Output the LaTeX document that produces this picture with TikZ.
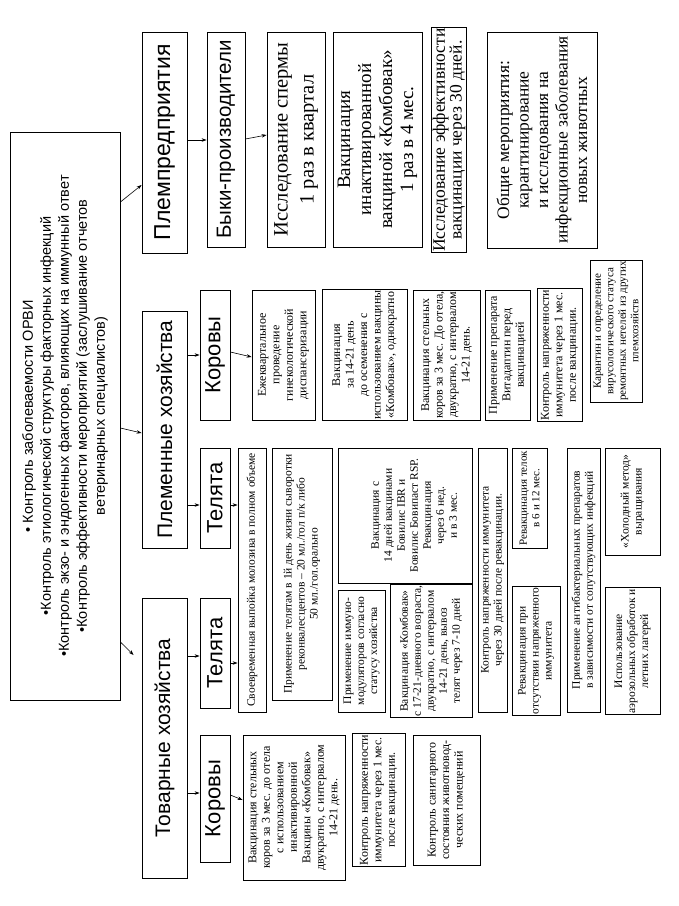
\documentclass[tikz,border=0pt]{standalone}
\usepackage{fontspec}
\setmainfont{Liberation Serif}
\newfontfamily\sansf{Liberation Sans}
\newfontfamily\seriff{Liberation Serif}
\usetikzlibrary{arrows.meta}
\tikzset{
  box/.style={draw=black, line width=0.8pt, rotate=90, inner sep=1pt, align=center, anchor=center},
  mainf/.style={font=\sansf\fontsize{14.5}{18}\selectfont},
  lone/.style={font=\sansf\fontsize{23}{26}\selectfont},
  loneb/.style={font=\sansf\fontsize{21}{26}\selectfont},
  ltwo/.style={font=\sansf\fontsize{22}{26}\selectfont},
  ltwob/.style={font=\sansf\fontsize{20.5}{24}\selectfont},
  bsa/.style={font=\seriff\fontsize{20.5}{26}\selectfont},
  bsb/.style={font=\seriff\fontsize{19}{21}\selectfont},
  bsc/.style={font=\seriff\fontsize{17.5}{14.5}\selectfont},
  bsd/.style={font=\seriff\fontsize{17.5}{19.5}\selectfont},
  sm/.style={font=\seriff\fontsize{11.5}{13}\selectfont},
  smc/.style={font=\seriff\fontsize{12}{13.5}\selectfont},
  smd/.style={font=\seriff\fontsize{11}{12.5}\selectfont},
  arr/.style={-{Stealth[length=5pt,width=3.5pt]}, line width=0.6pt}
}
\newcommand\mkbox[7]{%
  \pgfmathsetmacro\bxw{#5-#4}\pgfmathsetmacro\bxh{#3-#2}%
  \pgfmathsetmacro\bxcx{(#2+#3)/2}\pgfmathsetmacro\bxcy{-(#4+#5)/2}%
  \node[box,#6,minimum width=\bxw pt,minimum height=\bxh pt] (#1) at (\bxcx pt,\bxcy pt) {#7};}
\begin{document}
\begin{tikzpicture}[x=1pt,y=1pt]
\fill[white] (0,0) rectangle (679,-906);
\useasboundingbox (0,0) rectangle (679,-906);
% main
\mkbox{M}{10}{120}{132}{700}{mainf}{• Контроль заболеваемости ОРВИ\\ •Контроль этиологической структуры факторных инфекций\\ •Контроль экзо- и эндогенных факторов, влияющих на иммунный ответ\\ •Контроль эффективности мероприятий (заслушивание отчетов\\ ветеринарных специалистов)}
% level 1
\mkbox{PP}{142}{187}{32}{253}{lone}{Племпредприятия}
\mkbox{PH}{142}{187}{311}{548}{loneb}{Племенные хозяйства}
\mkbox{TH}{142}{187}{598}{878}{loneb}{Товарные хозяйства}
% level 2
\mkbox{BP}{207}{245}{32}{247}{ltwob}{Быки-производители}
\mkbox{PK}{200}{230}{290}{420}{ltwo}{Коровы}
\mkbox{PT}{200}{230}{448}{548}{ltwo}{Телята}
\mkbox{TT}{200}{230}{598}{708}{ltwo}{Телята}
\mkbox{TK}{200}{230}{735}{862}{ltwo}{Коровы}
% bulls
\mkbox{B1}{267}{325}{32}{247}{bsa}{Исследование спермы\\ 1 раз в квартал}
\mkbox{B2}{333}{422}{32}{247}{bsb}{Вакцинация\\ инактивированной\\ вакциной «Комбовак»\\ 1 раз в 4 мес.}
\mkbox{B3}{435}{463}{32}{248}{bsc}{Исследование эффективности\\ вакцинации через 30 дней.}
\mkbox{B4}{487}{597}{32}{248}{bsd}{Общие мероприятия:\\ карантинирование\\ и исследования на\\ инфекционные заболевания\\ новых животных}
% plem cows
\mkbox{C1}{252}{315}{290}{420}{smc}{Ежеквартальное\\ проведение\\ гинекологической\\ диспансеризации}
\mkbox{C2}{322}{407}{290}{420}{smc}{Вакцинация\\ за 14-21 день\\ до осеменения с\\ использованием вакцины\\ «Комбовак», однократно}
\mkbox{C3}{413}{480}{290}{420}{smc}{Вакцинация стельных\\ коров за 3 мес. До отела,\\ двукратно, с интервалом\\ 14-21 день.}
\mkbox{C4}{485}{530}{290}{420}{smc}{Применение препарата\\ Витадаптин перед\\ вакцинацией}
\mkbox{C5}{537}{582}{290}{420}{smc}{Контроль напряженности\\ иммунитета через 1 мес.\\ после вакцинации.}
\mkbox{C6}{590}{642}{277}{385}{smd}{Карантин и определение\\ вирусологического статуса\\ ремонтных нетелей из других\\ племхозяйств}
% calves
\mkbox{S1}{238}{266}{448}{712}{font=\seriff\fontsize{11.5}{13}\selectfont}{Своевременная выпойка молозива в полном объеме}
\mkbox{S2}{272}{332}{448}{700}{sm}{Применение телятам в 1й день жизни сыворотки\\ реконвалесцентов – 20 мл./гол п/к либо\\ 50 мл./гол.орально}
\mkbox{T3p}{338}{472}{448}{583}{sm}{~\\ ~\\ Вакцинация с\\ 14 дней вакцинами\\ Бовилис IBR и\\ Бовилис Бовипаст RSP.\\ Ревакцинация\\ через 6 нед.\\ и в 3 мес.}
\mkbox{T3ta}{338}{385}{590}{712}{sm}{Применение иммуно-\\ модуляторов согласно\\ статусу хозяйства}
\mkbox{T3tb}{390}{472}{590}{712}{sm}{Вакцинация «Комбовак»\\ с 17-21-дневного возраста,\\ двукратно, с интервалом\\ 14-21 день, вывоз\\ телят через 7-10 дней}
\mkbox{T4}{478}{507}{448}{712}{sm}{Контроль напряженности иммунитета\\ через 30 дней после ревакцинации.}
\mkbox{T5p}{512}{547}{448}{548}{smd}{Ревакцинация телок\\ в 6 и 12 мес.}
\mkbox{T5t}{512}{560}{590}{712}{sm}{Ревакцинация при\\ отсутствии напряженного\\ иммунитета}
\mkbox{T6}{567}{600}{448}{712}{sm}{Применение антибактериальных препаратов\\ в зависимости от сопутствующих инфекций}
\mkbox{T7p}{605}{660}{448}{555}{sm}{«Холодный метод»\\ выращивания}
\mkbox{T7t}{605}{660}{590}{712}{sm}{Использование\\ аэрозольных обработок и\\ летних лагерей}
% tov cows
\mkbox{K1}{243}{345}{735}{880}{smc}{Вакцинация стельных\\ коров за 3 мес. до отела\\ с использованием\\ инактивировнной\\ Вакцины «Комбовак»\\ двукратно, с интервалом\\ 14-21 день.}
\mkbox{K2}{352}{405}{735}{865}{smc}{Контроль напряженности\\ иммунитета через 1 мес.\\ после вакцинации.}
\mkbox{K3}{413}{480}{735}{865}{smc}{Контроль санитарного\\ состояния животновод-\\ ческих помещений}
% arrows
\draw[arr] (M.south |- 0,-202) -- (PP.north |- 0,-185);
\draw[arr] (M.south |- 0,-428) -- (PH.north |- 0,-433);
\draw[arr] (M.south |- 0,-642) -- ([xshift=-8pt]TH.north |- 0,-655);
\draw[arr] (PP.south |- 0,-140) -- (BP.north |- 0,-140);
\draw[arr] (BP.south |- 0,-139) -- (B1.north |- 0,-135);
\draw[arr] (PH.south |- 0,-355) -- (PK.north |- 0,-355);
\draw[arr] (PH.south |- 0,-505) -- (PT.north |- 0,-505);
\draw[arr] (TH.south |- 0,-656) -- (TT.north |- 0,-656);
\draw[arr] (TH.south |- 0,-793) -- (TK.north |- 0,-793);
\draw[arr] (PK.south |- 0,-352) -- (C1.north |- 0,-357);
\draw[arr] (PT.south |- 0,-505) -- (S1.north |- 0,-505);
\draw[arr] (TT.south |- 0,-663) -- (S1.north |- 0,-663);
\draw[arr] (TK.south |- 0,-795) -- (K1.north |- 0,-800);
\end{tikzpicture}
\end{document}
